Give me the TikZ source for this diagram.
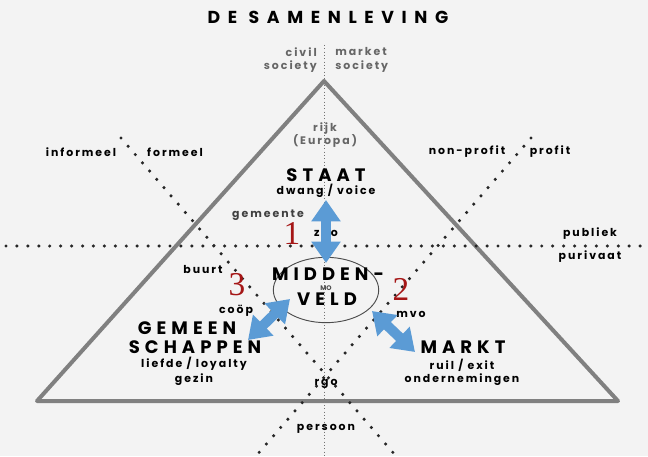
\documentclass[tikz,border=0pt]{standalone}
\usepackage{fontspec}
\setmainfont{Poppins}
\newfontfamily\numfont{Liberation Serif}
\usetikzlibrary{arrows.meta,shapes.geometric}
\definecolor{arrowblue}{RGB}{91,155,213}
\definecolor{numred}{RGB}{165,22,22}
\definecolor{edgegrey}{RGB}{128,128,128}
\definecolor{paper}{RGB}{243,243,243}
\tikzset{
	lbl/.style={font=\bfseries\fontsize{8.2}{10}\selectfont\addfontfeatures{LetterSpace=18}, text=black, inner sep=0pt, align=center},
	lblgrey/.style={lbl, text=black!60},
	big/.style={font=\bfseries\fontsize{13.5}{15}\selectfont\addfontfeatures{LetterSpace=28}, text=black, inner sep=0pt},
	num/.style={font=\numfont\fontsize{25}{25}\selectfont, text=numred, inner sep=0pt},
	dots/.style={line width=2.6pt, line cap=round, dash pattern=on 0pt off 8.2pt, black!85},
	fatarrow/.style={line width=7.5pt, draw=arrowblue, arrows={Triangle[width=21pt,length=16pt]-Triangle[width=21pt,length=16pt]}}
}

\begin{document}
\begin{tikzpicture}[x=0.75pt,y=-0.75pt]
\fill[paper] (0,0) rectangle (648,456);
\useasboundingbox (0,0) rectangle (648,456);

% assen
\draw[black!55, line width=0.5pt, dotted] (324,45) -- (324,456);
\draw[edgegrey, line width=3pt, line join=round] (37,401) -- (324,81) -- (618,401) -- cycle;
\draw[dots] (6,246) -- (648,246);
\draw[dots] (121,138) -- (396,456);
\draw[dots] (531,138) -- (256,456);

\node[font=\bfseries\fontsize{13}{14}\selectfont\addfontfeatures{LetterSpace=44}, text=black] (title) at (328,17) {DE SAMENLEVING};

\node[lblgrey, anchor=east, align=right] (civil) at (317,60) {civil\\society};
\node[lblgrey, anchor=west, align=left] (market) at (335,60) {market\\society};
\node[lblgrey] (rijk) at (325,135) {rijk\\(Europa)};

\node[lbl] (informeel) at (81,152) {informeel};
\node[lbl] (formeel) at (175,152) {formeel};
\node[lbl] (nonprofit) at (467,152) {non-profit};
\node[lbl] (profit) at (550,152) {profit};
\node[lbl] (publiek) at (590,234) {publiek};
\node[lbl] (privaat) at (590,257) {purivaat};

\node[big] (staat) at (326,175) {STAAT};
\node[lbl] (voice) at (326,191) {dwang / voice};
\node[lblgrey, text=black!75] (gemeente) at (268,215) {gemeente};
\node[lbl] (zbo) at (326,232) {zbo};
\node[lbl] (buurt) at (203,269) {buurt};

\node[draw=black!70, line width=0.7pt, ellipse, minimum width=79pt, minimum height=49pt] (mv) at (326,290) {};
\node[big] (midden) at (328,274) {MIDDEN-};
\node[font=\bfseries\fontsize{5}{6}\selectfont, text=black!70, inner sep=0pt] (mo) at (326,288) {MO};
\node[big] (veld) at (327,299) {VELD};

\node[lbl] (coop) at (236,311) {coöp};
\node[lbl] (mvo) at (411,314) {mvo};

\node[big] (gemeen) at (187,328) {GEMEEN};
\node[big] (schappen) at (195,347) {SCHAPPEN};
\node[lbl] (loyalty) at (194,364) {liefde / loyalty};
\node[lbl] (gezin) at (194,380) {gezin};

\node[big] (markt) at (463,347) {MARKT};
\node[lbl] (exit) at (462,365) {ruil / exit};
\node[lbl] (onderneming) at (462,380) {ondernemingen};

\node[lbl] (rgo) at (326,384) {rgo};
\node[lbl] (persoon) at (326,429) {persoon};

% pijlen
\coordinate (s1) at (326,200);
\coordinate (m1) at (326,263);
\coordinate (m3) at (290,299);
\coordinate (g3) at (248,340);
\coordinate (m2) at (372,311);
\coordinate (k2) at (415,352);
\draw[fatarrow] (s1) -- (m1);
\draw[fatarrow] (m3) -- (g3);
\draw[fatarrow] (m2) -- (k2);

\node[num] (een) at (292,233) {1};
\node[num] (twee) at (401,289) {2};
\node[num] (drie) at (237,285) {3};
\end{tikzpicture}
\end{document}
